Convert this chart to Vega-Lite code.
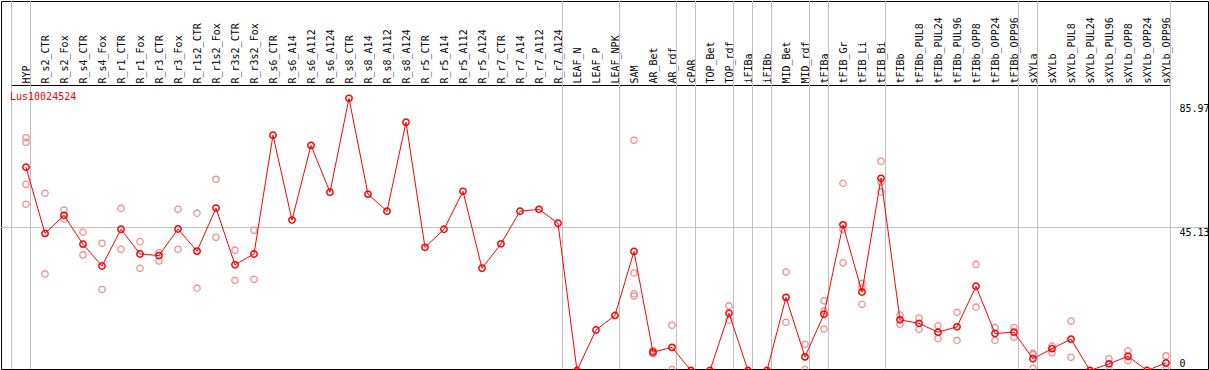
{
  "$schema": "https://vega.github.io/schema/vega-lite/v6.json",
  "autosize": "none",
  "padding": {"left": 1, "top": 1, "right": 1, "bottom": 1},
  "width": 1207,
  "height": 368,
  "background": "white",
  "config": {
    "view": {"stroke": "black", "strokeWidth": 1},
    "font": "DejaVu Sans Mono"
  },
  "title": {
    "text": "Lus10024524",
    "anchor": "start",
    "orient": "top",
    "frame": "group",
    "offset": -109,
    "dx": 9,
    "baseline": "alphabetic",
    "color": "#ff0000",
    "font": "DejaVu Sans Mono",
    "fontSize": 10,
    "fontWeight": "normal"
  },
  "datasets": {
    "means": [
      {"i": 1, "cat": "HYP", "v": 64.2},
      {"i": 2, "cat": "R_s2_CTR", "v": 43.3},
      {"i": 3, "cat": "R_s2_Fox", "v": 49.0},
      {"i": 4, "cat": "R_s4_CTR", "v": 39.9},
      {"i": 5, "cat": "R_s4_Fox", "v": 33.0},
      {"i": 6, "cat": "R_r1_CTR", "v": 44.6},
      {"i": 7, "cat": "R_r1_Fox", "v": 36.8},
      {"i": 8, "cat": "R_r3_CTR", "v": 36.3},
      {"i": 9, "cat": "R_r3_Fox", "v": 44.7},
      {"i": 10, "cat": "R_r1s2_CTR", "v": 37.7},
      {"i": 11, "cat": "R_r1s2_Fox", "v": 51.3},
      {"i": 12, "cat": "R_r3s2_CTR", "v": 33.4},
      {"i": 13, "cat": "R_r3s2_Fox", "v": 36.8},
      {"i": 14, "cat": "R_s6_CTR", "v": 74.3},
      {"i": 15, "cat": "R_s6_A14", "v": 47.5},
      {"i": 16, "cat": "R_s6_A112", "v": 71.1},
      {"i": 17, "cat": "R_s6_A124", "v": 56.3},
      {"i": 18, "cat": "R_s8_CTR", "v": 85.97},
      {"i": 19, "cat": "R_s8_A14", "v": 55.7},
      {"i": 20, "cat": "R_s8_A112", "v": 50.3},
      {"i": 21, "cat": "R_s8_A124", "v": 78.4},
      {"i": 22, "cat": "R_r5_CTR", "v": 38.9},
      {"i": 23, "cat": "R_r5_A14", "v": 44.6},
      {"i": 24, "cat": "R_r5_A112", "v": 56.6},
      {"i": 25, "cat": "R_r5_A124", "v": 32.3},
      {"i": 26, "cat": "R_r7_CTR", "v": 40.0},
      {"i": 27, "cat": "R_r7_A14", "v": 50.3},
      {"i": 28, "cat": "R_r7_A112", "v": 50.9},
      {"i": 29, "cat": "R_r7_A124", "v": 46.5},
      {"i": 30, "cat": "LEAF_N", "v": 0},
      {"i": 31, "cat": "LEAF_P", "v": 12.8},
      {"i": 32, "cat": "LEAF_NPK", "v": 17.4},
      {"i": 33, "cat": "SAM", "v": 37.6},
      {"i": 34, "cat": "AR_Bet", "v": 5.8},
      {"i": 35, "cat": "AR_rdf", "v": 7.3},
      {"i": 36, "cat": "cPAR", "v": 0},
      {"i": 37, "cat": "TOP_Bet", "v": 0},
      {"i": 38, "cat": "TOP_rdf", "v": 18.1},
      {"i": 39, "cat": "iFIBa", "v": 0},
      {"i": 40, "cat": "iFIBb", "v": 0},
      {"i": 41, "cat": "MID_Bet", "v": 23.1},
      {"i": 42, "cat": "MID_rdf", "v": 4.3},
      {"i": 43, "cat": "tFIBa", "v": 17.8},
      {"i": 44, "cat": "tFIB_Gr", "v": 46.0},
      {"i": 45, "cat": "tFIB_Li", "v": 24.8},
      {"i": 46, "cat": "tFIB_Bi", "v": 60.7},
      {"i": 47, "cat": "tFIBb", "v": 16.0},
      {"i": 48, "cat": "tFIBb_PUL8", "v": 14.9},
      {"i": 49, "cat": "tFIBb_PUL24", "v": 12.1},
      {"i": 50, "cat": "tFIBb_PUL96", "v": 13.8},
      {"i": 51, "cat": "tFIBb_OPP8", "v": 26.6},
      {"i": 52, "cat": "tFIBb_OPP24", "v": 11.7},
      {"i": 53, "cat": "tFIBb_OPP96", "v": 12.1},
      {"i": 54, "cat": "sXYLa", "v": 3.7},
      {"i": 55, "cat": "sXYLb", "v": 6.9},
      {"i": 56, "cat": "sXYLb_PUL8", "v": 9.9},
      {"i": 57, "cat": "sXYLb_PUL24", "v": 0},
      {"i": 58, "cat": "sXYLb_PUL96", "v": 2.1},
      {"i": 59, "cat": "sXYLb_OPP8", "v": 4.5},
      {"i": 60, "cat": "sXYLb_OPP24", "v": 0},
      {"i": 61, "cat": "sXYLb_OPP96", "v": 2.4}
    ],
    "reps": [
      {"cat": "HYP", "v": 73.5}, {"cat": "HYP", "v": 72.1}, {"cat": "HYP", "v": 58.8}, {"cat": "HYP", "v": 52.5},
      {"cat": "R_s2_CTR", "v": 56.0}, {"cat": "R_s2_CTR", "v": 30.5},
      {"cat": "R_s2_Fox", "v": 50.7}, {"cat": "R_s2_Fox", "v": 47.8},
      {"cat": "R_s4_CTR", "v": 43.7}, {"cat": "R_s4_CTR", "v": 36.5},
      {"cat": "R_s4_Fox", "v": 40.2}, {"cat": "R_s4_Fox", "v": 25.6},
      {"cat": "R_r1_CTR", "v": 51.2}, {"cat": "R_r1_CTR", "v": 38.3},
      {"cat": "R_r1_Fox", "v": 40.7}, {"cat": "R_r1_Fox", "v": 32.3},
      {"cat": "R_r3_CTR", "v": 37.2}, {"cat": "R_r3_CTR", "v": 34.6},
      {"cat": "R_r3_Fox", "v": 50.9}, {"cat": "R_r3_Fox", "v": 38.3},
      {"cat": "R_r1s2_CTR", "v": 49.7}, {"cat": "R_r1s2_CTR", "v": 26.0},
      {"cat": "R_r1s2_Fox", "v": 60.4}, {"cat": "R_r1s2_Fox", "v": 42.1},
      {"cat": "R_r3s2_CTR", "v": 38.0}, {"cat": "R_r3s2_CTR", "v": 28.5},
      {"cat": "R_r3s2_Fox", "v": 44.3}, {"cat": "R_r3s2_Fox", "v": 28.8},
      {"cat": "SAM", "v": 72.7}, {"cat": "SAM", "v": 30.8}, {"cat": "SAM", "v": 24.2}, {"cat": "SAM", "v": 23.5},
      {"cat": "AR_Bet", "v": 5.3}, {"cat": "AR_Bet", "v": 6.3},
      {"cat": "AR_rdf", "v": 14.3}, {"cat": "AR_rdf", "v": 0.3},
      {"cat": "TOP_rdf", "v": 20.4}, {"cat": "TOP_rdf", "v": 15.9},
      {"cat": "MID_Bet", "v": 31.1}, {"cat": "MID_Bet", "v": 15.2},
      {"cat": "MID_rdf", "v": 8.3}, {"cat": "MID_rdf", "v": 0.3},
      {"cat": "tFIBa", "v": 22.0}, {"cat": "tFIBa", "v": 18.8}, {"cat": "tFIBa", "v": 13.1},
      {"cat": "tFIB_Gr", "v": 59.1}, {"cat": "tFIB_Gr", "v": 44.6}, {"cat": "tFIB_Gr", "v": 34.0},
      {"cat": "tFIB_Li", "v": 27.5}, {"cat": "tFIB_Li", "v": 26.1}, {"cat": "tFIB_Li", "v": 20.9},
      {"cat": "tFIB_Bi", "v": 66.1}, {"cat": "tFIB_Bi", "v": 59.5}, {"cat": "tFIB_Bi", "v": 56.4},
      {"cat": "tFIBb", "v": 17.5}, {"cat": "tFIBb", "v": 14.6},
      {"cat": "tFIBb_PUL8", "v": 16.6}, {"cat": "tFIBb_PUL8", "v": 13.0},
      {"cat": "tFIBb_PUL24", "v": 14.1}, {"cat": "tFIBb_PUL24", "v": 10.1},
      {"cat": "tFIBb_PUL96", "v": 18.4}, {"cat": "tFIBb_PUL96", "v": 9.5},
      {"cat": "tFIBb_OPP8", "v": 33.5}, {"cat": "tFIBb_OPP8", "v": 20.0},
      {"cat": "tFIBb_OPP24", "v": 13.6}, {"cat": "tFIBb_OPP24", "v": 9.5},
      {"cat": "tFIBb_OPP96", "v": 13.6}, {"cat": "tFIBb_OPP96", "v": 10.5},
      {"cat": "sXYLa", "v": 5.4}, {"cat": "sXYLa", "v": 5.0}, {"cat": "sXYLa", "v": 0.7},
      {"cat": "sXYLb", "v": 7.7}, {"cat": "sXYLb", "v": 5.6},
      {"cat": "sXYLb_PUL8", "v": 15.6}, {"cat": "sXYLb_PUL8", "v": 4.2},
      {"cat": "sXYLb_PUL96", "v": 3.7}, {"cat": "sXYLb_PUL96", "v": 0.4},
      {"cat": "sXYLb_OPP8", "v": 6.2}, {"cat": "sXYLb_OPP8", "v": 3.1},
      {"cat": "sXYLb_OPP96", "v": 4.6}, {"cat": "sXYLb_OPP96", "v": 0.3}
    ],
    "groupStarts": [
      {"cat": "HYP"}, {"cat": "R_s2_CTR"}, {"cat": "LEAF_N"}, {"cat": "SAM"}, {"cat": "cPAR"},
      {"cat": "TOP_Bet"}, {"cat": "iFIBa"}, {"cat": "iFIBb"}, {"cat": "MID_Bet"}, {"cat": "tFIBa"},
      {"cat": "tFIB_Gr"}, {"cat": "tFIBb"}, {"cat": "sXYLa"}, {"cat": "sXYLb"}
    ],
    "groupEnd": [{"cat": "sXYLb_OPP96"}]
  },
  "resolve": {"scale": {"x": "shared", "y": "shared"}},
  "layer": [
    {
      "data": {"name": "groupEnd"},
      "mark": {"type": "rule", "color": "#c0c0c0", "strokeWidth": 1},
      "encoding": {
        "y": {"datum": 45.13, "type": "quantitative",
          "scale": {"domain": [0, 85.97], "range": [369.5, 97.3], "nice": false, "zero": false},
          "axis": {
            "orient": "right",
            "offset": -37.5,
            "title": null,
            "values": [0, 45.13, 85.97],
            "grid": false,
            "ticks": false,
            "tickSize": 0,
            "domain": false,
            "labelPadding": 8.5,
            "labelFont": "DejaVu Sans Mono",
            "labelFontSize": 10,
            "labelColor": "black",
            "labelAlign": "left",
            "labelBaseline": "top",
            "labelOffset": {"condition": [{"test": "datum.value > 80", "value": 5}, {"test": "datum.value == 0", "value": -12}], "value": 0},
            "labelBound": false,
            "labelOverlap": false,
            "labelFlush": false,
            "format": ".2~f"
          }
        }
      }
    },
    {
      "data": {"name": "groupStarts"},
      "mark": {"type": "rule", "color": "#c0c0c0", "strokeWidth": 1},
      "encoding": {
        "x": {"field": "cat", "type": "nominal", "bandPosition": 0,
          "scale": {
            "type": "band",
            "domain": ["HYP","R_s2_CTR","R_s2_Fox","R_s4_CTR","R_s4_Fox","R_r1_CTR","R_r1_Fox","R_r3_CTR","R_r3_Fox","R_r1s2_CTR","R_r1s2_Fox","R_r3s2_CTR","R_r3s2_Fox","R_s6_CTR","R_s6_A14","R_s6_A112","R_s6_A124","R_s8_CTR","R_s8_A14","R_s8_A112","R_s8_A124","R_r5_CTR","R_r5_A14","R_r5_A112","R_r5_A124","R_r7_CTR","R_r7_A14","R_r7_A112","R_r7_A124","LEAF_N","LEAF_P","LEAF_NPK","SAM","AR_Bet","AR_rdf","cPAR","TOP_Bet","TOP_rdf","iFIBa","iFIBb","MID_Bet","MID_rdf","tFIBa","tFIB_Gr","tFIB_Li","tFIB_Bi","tFIBb","tFIBb_PUL8","tFIBb_PUL24","tFIBb_PUL96","tFIBb_OPP8","tFIBb_OPP24","tFIBb_OPP96","sXYLa","sXYLb","sXYLb_PUL8","sXYLb_PUL24","sXYLb_PUL96","sXYLb_OPP8","sXYLb_OPP24","sXYLb_OPP96"],
            "range": [10.5, 1169.5],
            "paddingInner": 0,
            "paddingOuter": 0
          },
          "axis": {
            "orient": "top",
            "offset": -84,
            "title": null,
            "bandPosition": 0.73,
            "labelAngle": -90,
            "labelAlign": "left",
            "labelBaseline": "middle",
            "labelPadding": 2,
            "labelOffset": 6,
            "labelFont": "DejaVu Sans Mono",
            "labelFontSize": 10,
            "labelColor": "black",
            "labelOverlap": false,
            "labelBound": false,
            "labelLimit": 0,
            "ticks": false,
            "tickSize": 0,
            "grid": false,
            "domain": true,
            "domainColor": "black",
            "domainWidth": 1
          }
        }
      }
    },
    {
      "data": {"name": "groupEnd"},
      "mark": {"type": "rule", "color": "#c0c0c0", "strokeWidth": 1},
      "encoding": {
        "x": {"field": "cat", "type": "nominal", "bandPosition": 1}
      }
    },
    {
      "data": {"name": "reps"},
      "mark": {
        "type": "point",
        "filled": false,
        "shape": "circle",
        "size": 40,
        "stroke": "#ee8e8e",
        "strokeWidth": 1.3,
        "opacity": 1
      },
      "encoding": {
        "x": {"field": "cat", "type": "nominal", "bandPosition": 0.763},
        "y": {"field": "v", "type": "quantitative"}
      }
    },
    {
      "data": {"name": "means"},
      "mark": {"type": "line", "color": "#ff0000", "strokeWidth": 1},
      "encoding": {
        "x": {"field": "cat", "type": "nominal", "bandPosition": 0.763},
        "y": {"field": "v", "type": "quantitative"},
        "order": {"field": "i", "type": "quantitative"}
      }
    },
    {
      "data": {"name": "means"},
      "mark": {
        "type": "point",
        "filled": false,
        "shape": "circle",
        "size": 40,
        "stroke": "#ff0000",
        "strokeWidth": 1.5,
        "opacity": 1
      },
      "encoding": {
        "x": {"field": "cat", "type": "nominal", "bandPosition": 0.763},
        "y": {"field": "v", "type": "quantitative"}
      }
    }
  ]
}
